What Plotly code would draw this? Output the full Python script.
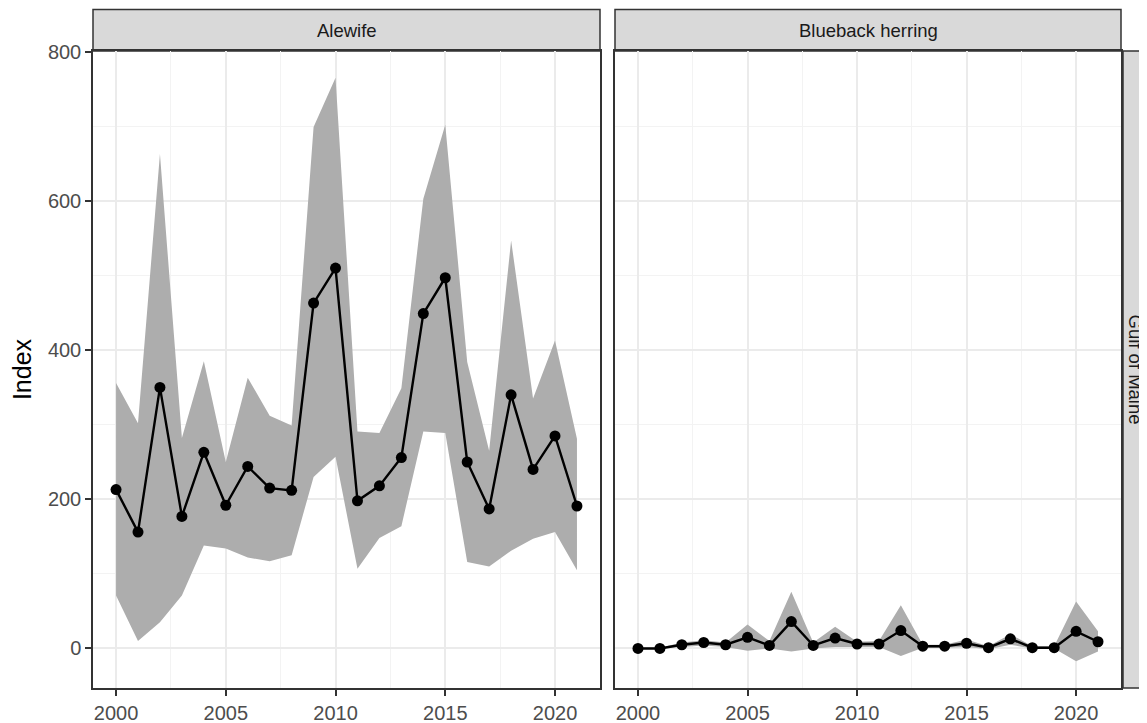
import plotly.graph_objects as go

years = list(range(2000, 2022))

alewife_index = [213, 156, 350, 177, 263, 192, 244, 215, 212, 463, 510, 198,
                 218, 256, 449, 497, 250, 187, 340, 240, 285, 191]
alewife_upper = [356, 302, 663, 282, 385, 250, 363, 312, 299, 699, 765, 291,
                 289, 349, 603, 702, 384, 265, 547, 335, 413, 281]
alewife_lower = [71, 10, 35, 71, 138, 134, 122, 117, 125, 230, 257, 107,
                 148, 164, 291, 289, 116, 110, 131, 147, 156, 105]

blueback_index = [0, 0, 5, 8, 5, 15, 4, 36, 4, 14, 6, 6,
                  24, 3, 3, 7, 1, 13, 1, 1, 23, 9]
blueback_upper = [1, 1, 8, 11, 8, 32, 10, 76, 8, 29, 9, 10,
                  58, 5, 5, 12, 3, 19, 3, 3, 63, 23]
blueback_lower = [0, 0, 2, 4, 2, -3, 0, -4, 0, 2, 2, 2,
                  -10, 1, 1, 2, -1, 5, 0, 0, -17, -4]

panels = ["Alewife", "Blueback herring"]
row_label = "Gulf of Maine"
x_ticks = [2000, 2005, 2010, 2015, 2020]
y_ticks = [0, 200, 400, 600, 800]

RIBBON = "#ADADAD"
FONT = "Liberation Sans, Arial, sans-serif"

fig = go.Figure()
series = [(alewife_index, alewife_upper, alewife_lower),
          (blueback_index, blueback_upper, blueback_lower)]
for i, (idx, up, lo) in enumerate(series):
    xa = "x" if i == 0 else "x2"
    ya = "y" if i == 0 else "y2"
    fig.add_trace(go.Scatter(x=years, y=lo, mode="lines", line=dict(width=0, color=RIBBON),
                             xaxis=xa, yaxis=ya, showlegend=False, hoverinfo="skip"))
    fig.add_trace(go.Scatter(x=years, y=up, mode="lines", line=dict(width=0, color=RIBBON),
                             fill="tonexty", fillcolor=RIBBON,
                             xaxis=xa, yaxis=ya, showlegend=False, hoverinfo="skip"))
    fig.add_trace(go.Scatter(x=years, y=idx, mode="lines+markers",
                             line=dict(color="black", width=2.4),
                             marker=dict(color="black", size=11),
                             xaxis=xa, yaxis=ya, showlegend=False))

# the page body has an 8px margin, so the figure is sized to the remaining window
W, H = 1139, 715
L, R, T, B = 85, 26, 43, 35
pw = W - L - R
ph = H - T - B
panel_px = 507
gap_px = 15
d1 = panel_px / pw
d2 = (panel_px + gap_px) / pw

xcommon = dict(range=[1998.95, 2022.05], tickmode="array", tickvals=x_ticks,
               ticks="outside", ticklen=6, tickcolor="#333333", tickwidth=1.5,
               tickfont=dict(size=20, color="#4D4D4D", family=FONT),
               showgrid=True, gridcolor="#EBEBEB", gridwidth=1.5,
               minor=dict(tickmode="array", tickvals=[1997.5 + 2.5 * k for k in range(11)],
                          showgrid=True, gridcolor="#F3F3F3", gridwidth=0.9, ticks=""),
               showline=True, linecolor="#333333", linewidth=1.5, mirror=True,
               zeroline=False, automargin=False)
ycommon = dict(range=[-53, 801], tickmode="array", tickvals=y_ticks,
               showgrid=True, gridcolor="#EBEBEB", gridwidth=1.5,
               minor=dict(tickmode="array", tickvals=[-100, 100, 300, 500, 700],
                          showgrid=True, gridcolor="#F3F3F3", gridwidth=0.9, ticks=""),
               showline=True, linecolor="#333333", linewidth=1.5, mirror=True,
               zeroline=False, automargin=False)

fig.update_layout(
    width=W, height=H,
    margin=dict(l=L, r=R, t=T, b=B, autoexpand=False),
    plot_bgcolor="white", paper_bgcolor="white",
    font=dict(family=FONT),
    xaxis=dict(domain=[0, d1], anchor="y", **xcommon),
    xaxis2=dict(domain=[d2, 1], anchor="y2", **xcommon),
    yaxis=dict(domain=[0, 1], anchor="x", ticks="outside", ticklen=6, tickcolor="#333333",
               tickwidth=1.5, tickfont=dict(size=20, color="#4D4D4D", family=FONT),
               title=dict(text="Index", font=dict(size=25, color="black", family=FONT), standoff=14),
               **ycommon),
    yaxis2=dict(domain=[0, 1], anchor="x2", matches="y", showticklabels=False, ticks="",
                **ycommon),
)

strip_h = 41.5 / ph
shapes = []
annotations = []
for (x0, x1), name in zip([(0, d1), (d2, 1)], panels):
    shapes.append(dict(type="rect", xref="paper", yref="paper", x0=x0, x1=x1,
                       y0=1, y1=1 + strip_h, fillcolor="#D9D9D9",
                       line=dict(color="#333333", width=1.5), layer="below"))
    annotations.append(dict(xref="paper", yref="paper", x=(x0 + x1) / 2, y=1 + strip_h / 2,
                            xanchor="center", yanchor="middle",
                            text=name, showarrow=False,
                            font=dict(size=18.5, color="#1A1A1A", family=FONT)))
sx0 = 1 + 2 / pw
sx1 = 1 + 43.5 / pw
shapes.append(dict(type="rect", xref="paper", yref="paper", x0=sx0, x1=sx1,
                   y0=0, y1=1, fillcolor="#D9D9D9",
                   line=dict(color="#333333", width=1.5), layer="below"))
annotations.append(dict(xref="paper", yref="paper", x=1 + 14 / pw, y=0.5,
                        xanchor="center", yanchor="middle",
                        text=row_label, showarrow=False, textangle=90,
                        font=dict(size=18.5, color="#1A1A1A", family=FONT)))
fig.update_layout(shapes=shapes, annotations=annotations)

fig.write_html("out.html")
